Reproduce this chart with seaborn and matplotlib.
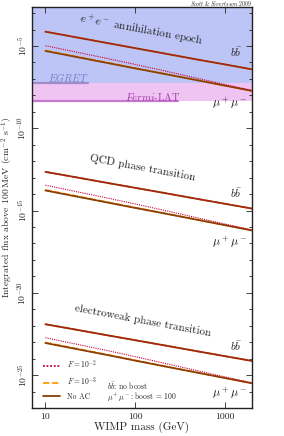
import numpy as np
import pandas as pd
import matplotlib
matplotlib.use('Agg')
import matplotlib.pyplot as plt
import matplotlib.ticker as mticker
import seaborn as sns

# WIMP masses (GeV) and log10 of integrated flux above 100 MeV
mass = [10, 20, 50, 100, 200, 500, 1000, 2000]

ee_bb = [-4.13, -4.43, -4.83, -5.13, -5.43, -5.83, -6.12, -6.42]
ee_mu_noac = [-5.30, -5.62, -6.04, -6.36, -6.67, -7.09, -7.41, -7.73]
ee_mu_f3 = [-5.27, -5.59, -6.02, -6.34, -6.66, -7.08, -7.40, -7.72]
ee_mu_f2 = [-4.98, -5.32, -5.77, -6.12, -6.48, -6.97, -7.34, -7.70]

qcd_bb = [-12.65, -12.94, -13.33, -13.62, -13.91, -14.30, -14.59, -14.88]
qcd_mu_noac = [-13.78, -14.10, -14.52, -14.84, -15.15, -15.57, -15.89, -16.21]
qcd_mu_f3 = [-13.75, -14.07, -14.50, -14.82, -15.14, -15.56, -15.88, -16.20]
qcd_mu_f2 = [-13.46, -13.80, -14.25, -14.60, -14.96, -15.45, -15.82, -16.18]

ew_bb = [-21.91, -22.20, -22.59, -22.88, -23.17, -23.56, -23.85, -24.14]
ew_mu_noac = [-23.05, -23.37, -23.79, -24.12, -24.44, -24.86, -25.18, -25.50]
ew_mu_f3 = [-23.02, -23.34, -23.77, -24.10, -24.43, -24.85, -25.17, -25.49]
ew_mu_f2 = [-22.73, -23.07, -23.52, -23.88, -24.25, -24.74, -25.11, -25.47]

# instrument limits (log10 flux) and mass reach of the marker lines
egret_limit = -7.22
fermi_limit = -8.37
egret_mass = [7, 30]
fermi_mass = [7, 300]

# draw order: orange underneath, brown, red dots on top
models = ['F3', 'No AC', 'F2']
curves = {
    'No AC': [ee_bb, ee_mu_noac, qcd_bb, qcd_mu_noac, ew_bb, ew_mu_noac],
    'F3': [ee_bb, ee_mu_f3, qcd_bb, qcd_mu_f3, ew_bb, ew_mu_f3],
    'F2': [ee_bb, ee_mu_f2, qcd_bb, qcd_mu_f2, ew_bb, ew_mu_f2],
}

sns.set_style('ticks')
plt.rcParams['font.family'] = 'serif'
plt.rcParams['font.serif'] = ['cmr10']
plt.rcParams['mathtext.fontset'] = 'cm'
plt.rcParams['axes.formatter.use_mathtext'] = True
plt.rcParams['axes.unicode_minus'] = False

W, H = 284, 436
L, R, T, B = 31.5, 252, 7, 408
fig = plt.figure(figsize=(W / 100, H / 100), dpi=100)
ax = fig.add_axes([L / W, 1 - B / H, (R - L) / W, (B - T) / H])

def axpos(px, py):
    return (px - L) / (R - L), (B - py) / (B - T)

ymin, ymax = 1e-27, 10 ** -2.63
blue = '#bcc5f6'
pink = '#efc4f3'
ax.axhspan(10 ** egret_limit, ymax, color=blue, lw=0, zorder=0)
ax.axhspan(10 ** fermi_limit, 10 ** egret_limit, color=pink, lw=0, zorder=0)
ax.plot(egret_mass, [10 ** egret_limit] * 2, color='#a08ccb', lw=1.6, zorder=1)
ax.plot(fermi_mass, [10 ** fermi_limit] * 2, color='#c878d0', lw=1.6, zorder=1)

styles = {
    'No AC': dict(color='#8a3f06', lw=1.3, ls='-'),
    'F3': dict(color='#ff9a00', lw=1.3, ls=(0, (3.5, 1.5))),
    'F2': dict(color='#c8003a', lw=0.8, ls=(0, (1, 1))),
}
labels = {'No AC': 'No AC', 'F3': r'$F = 10^{-3}$', 'F2': r'$F = 10^{-2}$'}
handles = {}
for z, m in enumerate(models):
    for c in curves[m]:
        df = pd.DataFrame({'mass': mass, 'flux': 10 ** np.array(c)})
        sns.lineplot(data=df, x='mass', y='flux', ax=ax, estimator=None,
                     zorder=3 + z, **styles[m])
    handles[m] = ax.lines[-1]

ax.set_xscale('log')
ax.set_yscale('log')
ax.set_xlim(7, 2000)
ax.set_ylim(ymin, ymax)

ax.xaxis.set_major_locator(mticker.FixedLocator([10, 100, 1000]))
ax.xaxis.set_major_formatter(mticker.FixedFormatter(['10', '100', '1000']))
ax.xaxis.set_minor_locator(mticker.NullLocator())
ymaj = [1e-25, 1e-20, 1e-15, 1e-10, 1e-5]
ax.yaxis.set_major_locator(mticker.FixedLocator(ymaj))
ax.yaxis.set_major_formatter(mticker.FixedFormatter([r'$10^{-25}$', r'$10^{-20}$', r'$10^{-15}$', r'$10^{-10}$', r'$10^{-5}$']))
ax.yaxis.set_minor_locator(mticker.FixedLocator([10.0 ** k for k in range(-27, -2)]))
ax.yaxis.set_minor_formatter(mticker.NullFormatter())
ax.tick_params(which='both', direction='in', top=True, right=True, width=0.6, colors='#222222', labelsize=7)
ax.tick_params(which='major', length=4)
ax.tick_params(which='minor', length=2.5)
for lab in ax.get_yticklabels():
    lab.set_rotation(90)
    lab.set_va('center')
ax.tick_params(axis='x', pad=3)
ax.tick_params(axis='y', pad=2)
for s in ax.spines.values():
    s.set_linewidth(1.0)
    s.set_color('#222222')

ax.set_xlabel('WIMP mass (GeV)', fontsize=8, labelpad=1)
ax.set_ylabel(r'Integrated flux above 100$\,$MeV (cm$^{-2}$ s$^{-1}$)', fontsize=7, labelpad=0.5)

tk = dict(transform=ax.transAxes, ha='center', va='center', color='#222222')
ax.text(*axpos(141, 31), r'$e^+e^-$ annihilation epoch', fontsize=8, rotation=-10.5, **tk)
ax.text(*axpos(143, 168), 'QCD phase transition', fontsize=8, rotation=-10.5, **tk)
ax.text(*axpos(142.5, 320.5), 'electroweak phase transition', fontsize=8, rotation=-10.5, **tk)
for py in [52, 193, 346]:
    ax.text(*axpos(236, py), r'$b\bar{b}$', fontsize=8, **tk)
for py in [104, 243, 394]:
    ax.text(*axpos(230, py), r'$\mu^+\mu^-$', fontsize=8.5, **tk)

ax.text(*axpos(48, 77), r'$\mathit{EGRET}$', fontsize=7.5, color='#7b7bc6',
        transform=ax.transAxes, ha='left', va='center')
ax.text(*axpos(125, 97), r'$\mathit{Fermi}$-LAT', fontsize=7.5, color='#a43aac',
        transform=ax.transAxes, ha='left', va='center')

ax.text(*axpos(107, 386), r'$b\bar{b}$: no boost', fontsize=5.5, transform=ax.transAxes,
        ha='left', va='center', color='#222222')
ax.text(*axpos(107, 397), r'$\mu^+\mu^-$: boost = 100', fontsize=5.5, transform=ax.transAxes,
        ha='left', va='center', color='#222222')

leg = ax.legend([handles['F2'], handles['F3'], handles['No AC']],
                [labels['F2'], labels['F3'], labels['No AC']],
                loc='lower left', bbox_to_anchor=axpos(43, 401), frameon=False,
                fontsize=5.5, handlelength=2.2, handletextpad=0.9, labelspacing=0.55,
                borderpad=0, borderaxespad=0)
for h in leg.get_lines():
    h.set_linewidth(1.3)

fig.text(R / W, 1 - 3.5 / H, r'$\mathit{Scott}$ & $\mathit{Sivertsson}$ $\mathit{2009}$', fontsize=4,
         ha='right', va='center', color='#222222')

fig.savefig('out.png', dpi=100)
